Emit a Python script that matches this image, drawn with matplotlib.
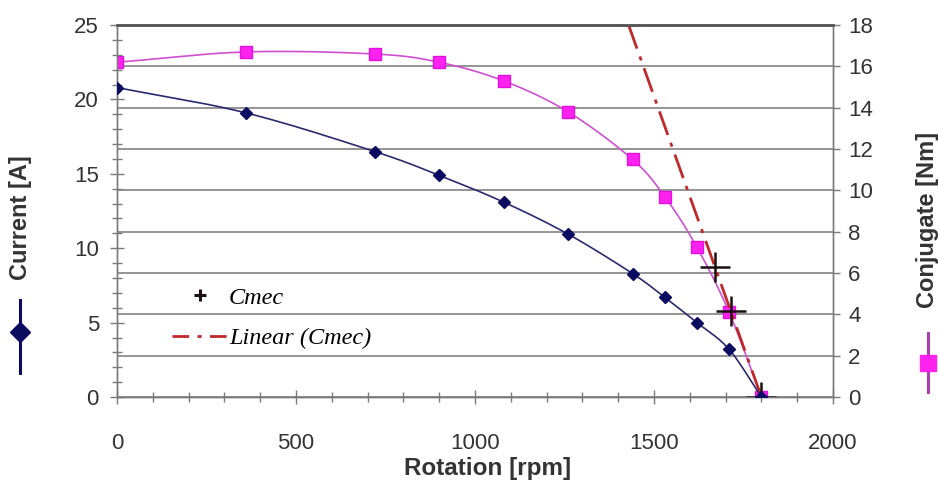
import numpy as np
import matplotlib
matplotlib.use("Agg")
import matplotlib.pyplot as plt
from matplotlib.lines import Line2D
from matplotlib.ticker import MultipleLocator

# ---- data ----
rpm = [0, 360, 720, 900, 1080, 1260, 1440, 1530, 1620, 1710, 1800]
current = [20.8, 19.1, 16.5, 14.9, 13.1, 10.95, 8.3, 6.7, 5.0, 3.2, 0.0]
conjugate = [16.2, 16.7, 16.6, 16.2, 15.3, 13.8, 11.5, 9.7, 7.25, 4.1, 0.0]
cmec_rpm = [1670, 1715, 1800]
cmec_val = [6.3, 4.15, 0.0]

plt.rcParams['font.family'] = ['Liberation Sans', 'DejaVu Sans']


def smooth(xs, ys, n=20):
    """Catmull-Rom style smoothing for drawing the connecting line only."""
    xs = np.asarray(xs, float)
    ys = np.asarray(ys, float)
    px = np.concatenate([[2 * xs[0] - xs[1]], xs, [2 * xs[-1] - xs[-2]]])
    py = np.concatenate([[2 * ys[0] - ys[1]], ys, [2 * ys[-1] - ys[-2]]])
    ox, oy = [], []
    t = np.linspace(0, 1, n, endpoint=False)
    for i in range(1, len(px) - 2):
        p0, p1, p2, p3 = (np.array([px[j], py[j]]) for j in range(i - 1, i + 3))
        for tt in t:
            pt = 0.5 * ((2 * p1) + (-p0 + p2) * tt + (2 * p0 - 5 * p1 + 4 * p2 - p3) * tt ** 2
                        + (-p0 + 3 * p1 - 3 * p2 + p3) * tt ** 3)
            ox.append(pt[0]); oy.append(pt[1])
    ox.append(xs[-1]); oy.append(ys[-1])
    return ox, oy


fig = plt.figure(figsize=(9.39, 4.82), dpi=100)
ax = fig.add_axes([0.1246, 0.1763, 0.7625, 0.7717])
ax2 = ax.twinx()
ax.set_zorder(2)
ax2.set_zorder(1)
ax.patch.set_visible(False)

ax.set_xlim(0, 2000)
ax.set_ylim(0, 25)
ax2.set_ylim(0, 18)

gray = '#7a7a7a'
txt = '#333333'
# grid from right axis
ax2.yaxis.set_major_locator(MultipleLocator(2))
ax2.grid(True, axis='y', color='#8c8c8c', lw=1.3)
ax2.set_axisbelow(True)

# conjugate
sx, sy = smooth(rpm, conjugate)
ax2.plot(sx, sy, color='#d04fd0', lw=1.2, zorder=3)
ax2.plot(rpm, conjugate, ls='none', marker='s', ms=8.5, color='#ff22ee', mec='#e010e0', zorder=4)

# Cmec and its linear trend
coef = np.polyfit(cmec_rpm, cmec_val, 1)
x_zero = -coef[1] / coef[0]
x_top = (18 - coef[1]) / coef[0]
xl = np.array([x_top, x_zero])
ax2.plot(xl, np.polyval(coef, xl), color='#c0282a', lw=2.0,
         dashes=(9, 3, 1.5, 3), zorder=5)
ax2.scatter(cmec_rpm, cmec_val, marker='+', s=480, color='#1a1010', lw=1.8, zorder=6)

# current
cx, cy = smooth(rpm, current)
ax.plot(cx, cy, color='#2a2a70', lw=1.2, zorder=3)
ax.plot(rpm, current, ls='none', marker='D', ms=6, color='#0b0b60', zorder=4)

# ticks
ax.xaxis.set_major_locator(MultipleLocator(500))
ax.xaxis.set_minor_locator(MultipleLocator(100))
ax.yaxis.set_major_locator(MultipleLocator(5))
ax.yaxis.set_minor_locator(MultipleLocator(1))
ax.tick_params(axis='both', which='major', direction='inout', length=10, width=1.0,
               color=gray, labelsize=16, labelcolor=txt)
ax.tick_params(axis='both', which='minor', direction='inout', length=7, width=1.0, color=gray)
ax.tick_params(axis='x', which='major', pad=21)
ax.tick_params(axis='y', which='major', pad=8)
ax2.tick_params(axis='y', which='major', direction='out', length=5, width=1.0,
                color=gray, labelsize=16, labelcolor=txt, pad=6)

for a in (ax, ax2):
    for s in ('left', 'bottom', 'right'):
        a.spines[s].set_color(gray)
        a.spines[s].set_linewidth(1.0)
    a.spines['top'].set_color('#555555')
    a.spines['top'].set_linewidth(1.8)

fig.text(488 / 939, 1 - 468 / 482, 'Rotation [rpm]', ha='center', va='center',
         fontsize=17.5, fontweight='bold', color=txt)

# axis titles with series symbols
fig.text(0.022, 1 - 218 / 482, 'Current [A]', rotation=90, ha='center', va='center',
         fontsize=17, fontweight='bold', color=txt)
fig.add_artist(Line2D([0.021, 0.021], [1 - 300 / 482, 1 - 373 / 482], transform=fig.transFigure,
                      color='#0b0b60', lw=2.2))
fig.add_artist(Line2D([0.021], [1 - 332 / 482], transform=fig.transFigure, ls='none',
                      marker='D', ms=10, color='#0b0b60'))
fig.text(0.988, 1 - 220 / 482, 'Conjugate [Nm]', rotation=90, ha='center', va='center',
         fontsize=17, fontweight='bold', color=txt)
fig.add_artist(Line2D([0.988, 0.988], [1 - 333 / 482, 1 - 392 / 482], transform=fig.transFigure,
                      color='#b040b0', lw=2.2))
fig.add_artist(Line2D([0.988], [1 - 363 / 482], transform=fig.transFigure, ls='none',
                      marker='s', ms=12, color='#ff22ee'))

# legend
h_cm = Line2D([], [], ls='none', marker='+', ms=9, mew=2.2, color='#1a1010')
h_tr = Line2D([], [], color='#c0282a', lw=2.0, dashes=(6, 3, 1.5, 3))
ax.legend([h_cm, h_tr], ['Cmec', 'Linear (Cmec)'], loc='upper left',
          bbox_to_anchor=(150 / 939, 1 - 265 / 482), bbox_transform=fig.transFigure,
          frameon=False, handlelength=2.3, handletextpad=0.05, labelspacing=0.75,
          prop={'family': 'Liberation Serif', 'style': 'italic', 'size': 17.5})

fig.savefig('out.png', dpi=100, facecolor='white')
